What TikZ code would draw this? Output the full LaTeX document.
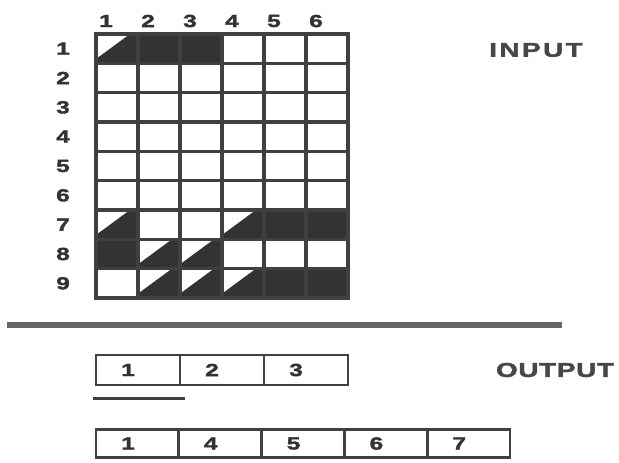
\documentclass[tikz,border=0pt]{standalone}
\usepackage{fontspec}
\setmainfont{Liberation Sans}
\newfontfamily\widesans{Liberation Sans Bold}[FakeStretch=1.4,FakeBold=2]
\usetikzlibrary{positioning,calc}
\definecolor{ink}{gray}{0.2}
\definecolor{rule}{gray}{0.25}
\newcommand{\cw}{42}
\newcommand{\rh}{29.33}

\begin{document}
\begin{tikzpicture}[x=1pt,y=-1pt,
  digit/.style={text=ink,font=\widesans\fontsize{17.5}{17.5}\selectfont,inner sep=0pt},
  word/.style={text=ink!90,font=\widesans\fontsize{20}{20}\selectfont\addfontfeatures{LetterSpace=#1},inner sep=0pt},
  gridline/.style={rule,line width=3.3pt,line cap=rect},
  outbox/.style={draw=rule,line width=2.8pt,minimum width=84pt,minimum height=30pt,inner sep=0pt,outer sep=0pt}]
\useasboundingbox (0,0) rectangle (619,463);
% dark cells of the input table
\foreach \c/\r in {2/1,3/1,5/7,6/7,1/8,5/9,6/9}
  \fill[ink] ({96+\cw*(\c-1)},{34+\rh*(\r-1)}) rectangle +(\cw,\rh);
% half dark cells, cut from bottom left to the top
\foreach \c/\r in {1/1,1/7,4/7,2/8,3/8,2/9,3/9,4/9}
  \fill[ink,shift={({96+\cw*(\c-1)},{34+\rh*(\r-1)})}] (0,25) -- (34,0) -- (\cw,0) -- (\cw,\rh) -- (0,\rh) -- cycle;
% grid
\foreach \i in {0,...,6} \draw[gridline] ({96+\cw*\i},34) -- ({96+\cw*\i},298);
\foreach \j in {0,...,9} \draw[gridline] (96,{34+\rh*\j}) -- (348,{34+\rh*\j});
% column and row numbers
\foreach \i in {1,...,6} \node[digit] (col\i) at ({64+\cw*\i},21) {\i};
\foreach \j in {1,...,9} \node[digit] (row\j) at (63,{34+\rh*(\j-0.5)}) {\j};
\node[word=12] (input) at (536,50) {INPUT};
% separator
\draw[rule!80,line width=6.5pt] (7,325) -- (562,325);
% output, first row
\node[outbox] (a1) at (138,370) {};
\node[outbox,right=0pt of a1] (a2) {};
\node[outbox,right=0pt of a2] (a3) {};
\foreach \n/\t in {a1/1,a2/2,a3/3} \node[digit,right=25pt of \n.west] (\n t) {\t};
\draw[rule,line width=3pt] ($(a1.south west)+(-3,13)$) -- ($(a1.south east)+(5,13)$);
% output, second row
\node[outbox,minimum width=82.8pt,minimum height=28pt] (b1) at (137.4,443.5) {};
\foreach \p/\n in {b1/b2,b2/b3,b3/b4,b4/b5}
  \node[outbox,minimum width=82.8pt,minimum height=28pt,right=0pt of \p] (\n) {};
\foreach \n/\t in {b1/1,b2/4,b3/5,b4/6,b5/7} \node[digit,right=25pt of \n.west] (\n t) {\t};
\node[word=3] (output) at (555,370) {OUTPUT};
\end{tikzpicture}
\end{document}
